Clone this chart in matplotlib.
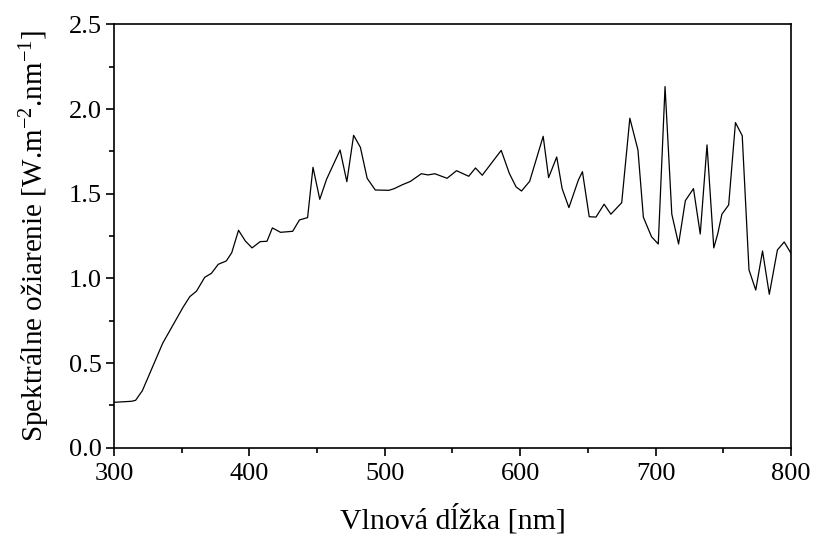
import matplotlib
matplotlib.use("Agg")
import matplotlib.pyplot as plt
from matplotlib.ticker import MultipleLocator

plt.rcParams['font.family'] = ['Liberation Serif', 'DejaVu Serif']
plt.rcParams['mathtext.fontset'] = 'custom'
plt.rcParams['mathtext.rm'] = 'Liberation Serif'
plt.rcParams['mathtext.it'] = 'Liberation Serif:italic'

wavelength = [300, 313, 316, 321, 336, 351, 356, 361, 367, 372, 377, 383, 387, 392,
              397, 402, 408, 413, 417, 423, 432, 437, 443, 447, 452, 457, 467, 472,
              477, 482, 487, 493, 503, 507, 513, 519, 527, 532, 537, 546, 553, 562,
              567, 572, 586, 592, 597, 601, 607, 617, 621, 627, 631, 636, 643, 646,
              651, 656, 662, 667, 675, 681, 687, 691, 697, 702, 707, 712, 717, 722,
              728, 733, 738, 743, 746, 749, 754, 759, 764, 769, 774, 779, 784, 790,
              795, 800]
irradiance = [0.268, 0.274, 0.28, 0.337, 0.617, 0.829, 0.892, 0.925, 1.006, 1.03,
              1.083, 1.103, 1.152, 1.284, 1.221, 1.18, 1.217, 1.219, 1.298, 1.272,
              1.278, 1.345, 1.359, 1.656, 1.467, 1.585, 1.758, 1.571, 1.845, 1.774,
              1.591, 1.522, 1.52, 1.53, 1.553, 1.573, 1.618, 1.611, 1.618, 1.591,
              1.636, 1.603, 1.652, 1.609, 1.756, 1.62, 1.54, 1.516, 1.573, 1.839,
              1.595, 1.717, 1.53, 1.418, 1.581, 1.63, 1.364, 1.362, 1.438, 1.379,
              1.447, 1.946, 1.758, 1.361, 1.246, 1.203, 2.133, 1.379, 1.203, 1.459,
              1.53, 1.262, 1.788, 1.18, 1.266, 1.379, 1.434, 1.92, 1.843, 1.05,
              0.931, 1.162, 0.906, 1.168, 1.215, 1.148]

fig = plt.figure(figsize=(8.14, 5.35), dpi=100)
ax = fig.add_axes([0.140, 0.1632, 0.8317, 0.7912])
ax.plot(wavelength, irradiance, color='black', linewidth=0.9)

ax.set_xlim(300, 800)
ax.set_ylim(0, 2.5)
ax.xaxis.set_major_locator(MultipleLocator(100))
ax.xaxis.set_minor_locator(MultipleLocator(50))
ax.yaxis.set_major_locator(MultipleLocator(0.5))
ax.yaxis.set_minor_locator(MultipleLocator(0.25))
ax.yaxis.set_major_formatter(matplotlib.ticker.FormatStrFormatter('%.1f'))

for s in ax.spines.values():
    s.set_linewidth(1.2)
ax.tick_params(which='major', direction='out', length=6, width=1.2,
               labelsize=19, top=False, right=False, pad=3)
ax.tick_params(axis='x', which='major', pad=5)
ax.tick_params(which='minor', direction='out', length=3.5, width=1.2,
               top=False, right=False)

ax.set_xlabel('Vlnová dĺžka [nm]', fontsize=21.5, labelpad=14)
ax.set_ylabel(r'Spektrálne ožiarenie [W.m$^{-2}$.nm$^{-1}$]', fontsize=21, labelpad=12)

fig.savefig('out.png', dpi=100)
